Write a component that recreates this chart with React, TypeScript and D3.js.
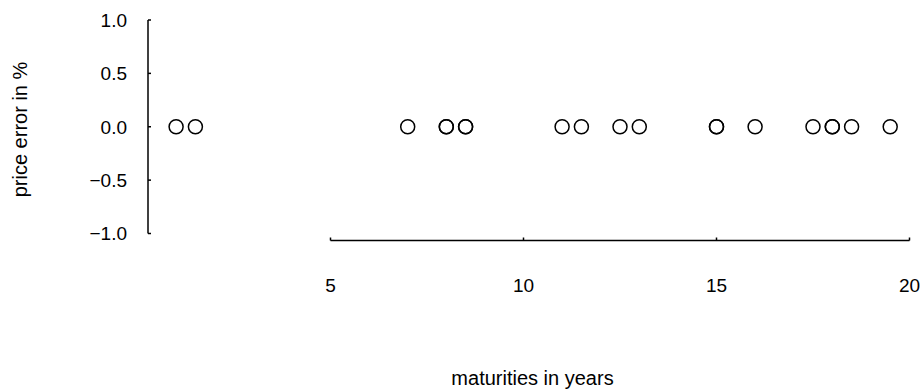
import React, { useEffect, useRef } from 'react';
import * as d3 from 'd3';

// maturities (years) of the bonds, all priced with zero error
const maturities = [1, 1.5, 7, 8, 8, 8.5, 8.5, 11, 11.5, 12.5, 13, 15, 15, 16, 17.5, 18, 18, 18.5, 19.5];
const priceErrors = [0, 0, 0, 0, 0, 0, 0, 0, 0, 0, 0, 0, 0, 0, 0, 0, 0, 0, 0];
const xTicks = [5, 10, 15, 20];
const yTicks = [-1, -0.5, 0, 0.5, 1];

const WIDTH = 922;
const HEIGHT = 392;

export default function App() {
  const svgRef = useRef<SVGSVGElement>(null);

  useEffect(() => {
    if (!svgRef.current) return;
    const svg = d3.select(svgRef.current);
    svg.selectAll('*').remove();

    const font = 'Liberation Sans, Arial, Helvetica, sans-serif';

    const xScale = d3.scaleLinear().domain([5, 20]).range([330.5, 909.5]);
    const yScale = d3.scaleLinear().domain([-1, 1]).range([233.5, 20]);

    // Y axis spine + inward ticks
    const yAxisX = 148;
    svg.append('line')
      .attr('x1', yAxisX).attr('x2', yAxisX)
      .attr('y1', yScale(1)).attr('y2', yScale(-1))
      .attr('stroke', '#000').attr('stroke-width', 1.5);

    svg.selectAll('.ytick')
      .data(yTicks)
      .enter()
      .append('line')
      .attr('x1', yAxisX).attr('x2', yAxisX + 3)
      .attr('y1', d => yScale(d)).attr('y2', d => yScale(d))
      .attr('stroke', '#000').attr('stroke-width', 1.5);

    svg.selectAll('.ylabel')
      .data(yTicks)
      .enter()
      .append('text')
      .attr('x', 127)
      .attr('y', d => yScale(d))
      .attr('dy', '0.36em')
      .attr('text-anchor', 'end')
      .attr('font-family', font)
      .attr('font-size', '19px')
      .attr('fill', '#000')
      .text(d => d3.format('.1f')(d).replace('-', '\u2212'));

    // X axis spine + inward ticks
    const xAxisY = 240.5;
    svg.append('line')
      .attr('x1', xScale(5)).attr('x2', xScale(20))
      .attr('y1', xAxisY).attr('y2', xAxisY)
      .attr('stroke', '#000').attr('stroke-width', 1.5);

    svg.selectAll('.xtick')
      .data(xTicks)
      .enter()
      .append('line')
      .attr('x1', d => xScale(d)).attr('x2', d => xScale(d))
      .attr('y1', xAxisY).attr('y2', xAxisY - 3)
      .attr('stroke', '#000').attr('stroke-width', 1.5);

    svg.selectAll('.xlabel')
      .data(xTicks)
      .enter()
      .append('text')
      .attr('x', d => xScale(d))
      .attr('y', 292)
      .attr('text-anchor', 'middle')
      .attr('font-family', font)
      .attr('font-size', '19px')
      .attr('fill', '#000')
      .text(d => String(d));

    // Axis titles
    svg.append('text')
      .attr('x', 532.5)
      .attr('y', 385)
      .attr('text-anchor', 'middle')
      .attr('font-family', font)
      .attr('font-size', '20px')
      .attr('fill', '#000')
      .text('maturities in years');

    svg.append('text')
      .attr('transform', 'translate(27,129.5) rotate(-90)')
      .attr('text-anchor', 'middle')
      .attr('font-family', font)
      .attr('font-size', '20px')
      .attr('fill', '#000')
      .text('price error in %');

    // Points
    svg.selectAll('.pt')
      .data(maturities.map((m, i) => ({ m, e: priceErrors[i] })))
      .enter()
      .append('circle')
      .attr('cx', d => xScale(d.m))
      .attr('cy', d => yScale(d.e))
      .attr('r', 7)
      .attr('fill', 'none')
      .attr('stroke', '#000')
      .attr('stroke-width', 1.5);
  }, []);

  return (
    <div style={{ position: 'absolute', left: 0, top: 0, background: '#fff' }}>
      <svg ref={svgRef} width={WIDTH} height={HEIGHT} style={{ display: 'block' }} />
    </div>
  );
}
